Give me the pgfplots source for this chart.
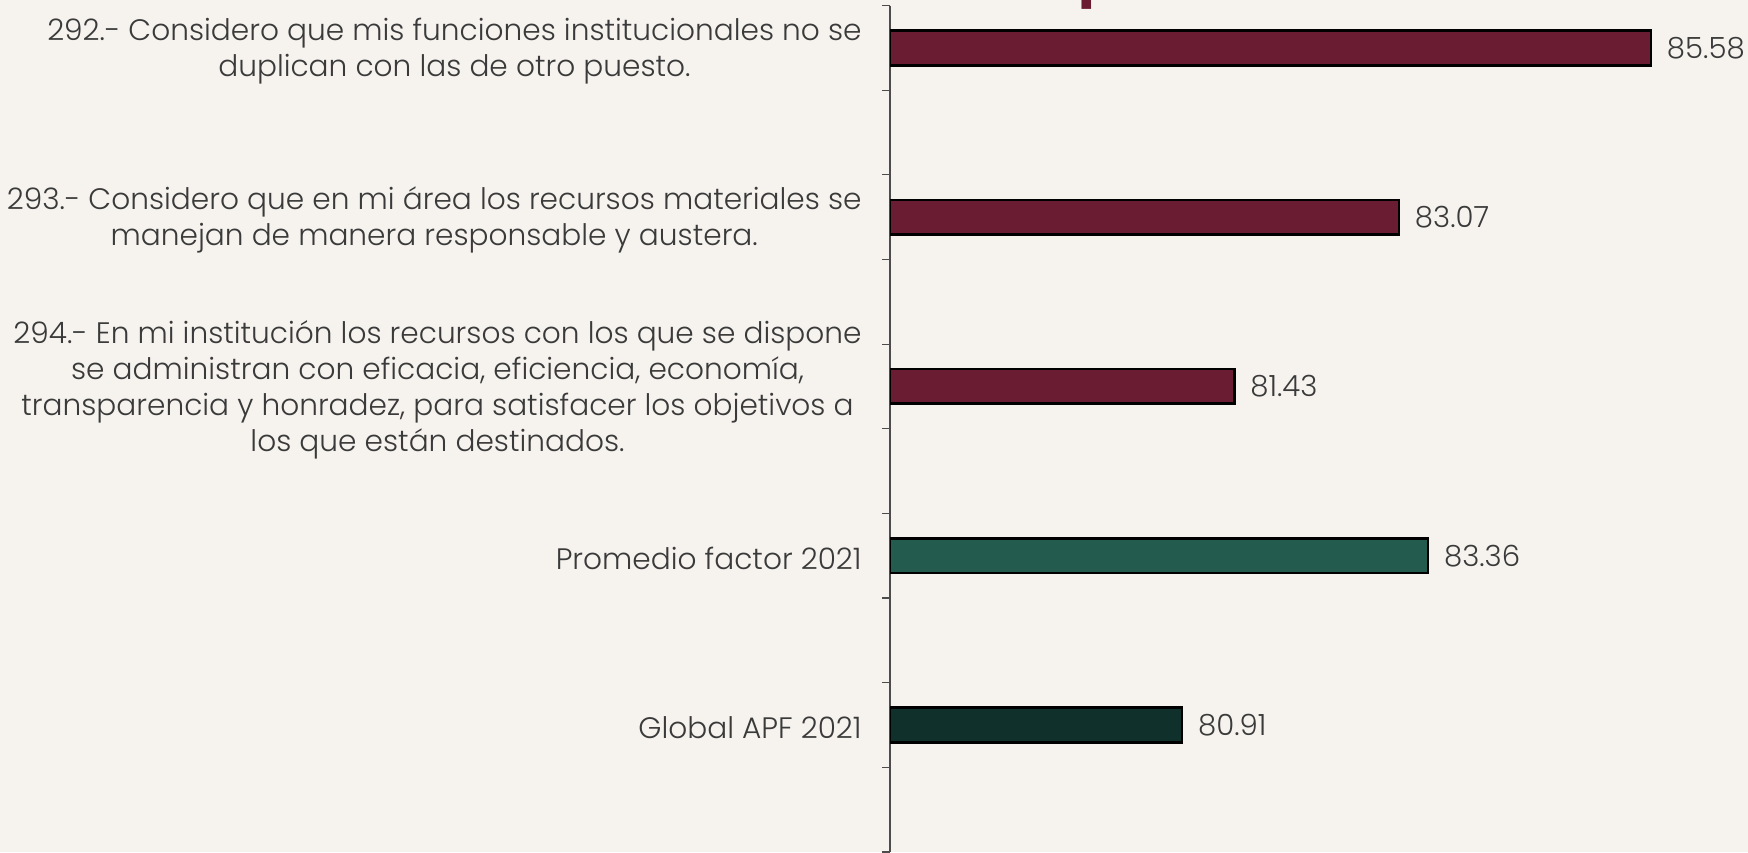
\documentclass[border=0pt]{standalone}
\usepackage{pgfplots}
\pgfplotsset{compat=1.18}
\usepackage{fontspec}
\setmainfont{Poppins Light}
\newfontfamily\titlefont{Poppins}
\definecolor{bg}{HTML}{F6F3EF}
\definecolor{maroon}{HTML}{691C32}
\definecolor{gmid}{HTML}{235B4E}
\definecolor{gdark}{HTML}{10312B}
\definecolor{txt}{HTML}{3A3A3A}
\begin{document}
\begin{tikzpicture}
\fill[bg] (0,0) rectangle (874pt,426pt);
\node[anchor=base west, inner sep=0pt, text=maroon, font=\titlefont\bfseries\fontsize{28}{30}\selectfont] at (539pt,428.6pt) {p};
\begin{axis}[
  at={(445pt,0pt)}, anchor=south west,
  scale only axis, width=429pt, height=423.2pt,
  xmin=78, xmax=86.546, ymin=0, ymax=10,
  axis x line=none, axis y line*=left,
  xtick=\empty,
  ytick={0,1,...,10}, yticklabels={},
  tick align=outside, major tick length=4pt,
  y axis line style={line width=0.6pt, color=black!70},
  ytick style={line width=0.6pt, color=black!70},
  extra y ticks={1.5,3.5,5.5,7.5,9.5},
  extra y tick labels={{Global APF 2021},{Promedio factor 2021},{294.- En mi institución los recursos con los que se dispone\\se administran con eficacia, eficiencia, economía,\\transparencia y honradez, para satisfacer los objetivos a\\los que están destinados.},{293.- Considero que en mi área los recursos materiales se\\manejan de manera responsable y austera.},{292.- Considero que mis funciones institucionales no se\\duplican con las de otro puesto.}},
  extra y tick style={major tick length=0pt, yticklabel style={align=center, anchor=east, inner sep=0pt, xshift=-14pt, yshift=-1.5pt, font=\fontsize{14.8}{18}\selectfont, text=txt}},
  xbar, bar width=17.3pt, bar shift=0pt,
  /pgf/number format/assume math mode=true,
  nodes near coords={\pgfmathprintnumber[fixed,fixed zerofill,precision=2]{\pgfplotspointmeta}},
  nodes near coords style={font=\fontsize{14.6}{18}\selectfont, text=txt, anchor=west, xshift=4pt},
  point meta=x,
]
\addplot[draw=black, line width=1.3pt, fill=maroon] coordinates {(85.58,9.5) (83.07,7.5) (81.43,5.5)};
\addplot[draw=black, line width=1.3pt, fill=gmid] coordinates {(83.36,3.5)};
\addplot[draw=black, line width=1.3pt, fill=gdark] coordinates {(80.91,1.5)};
\end{axis}
\pgfresetboundingbox
\path[use as bounding box] (0,0) rectangle (874pt,426pt);
\end{tikzpicture}
\end{document}
